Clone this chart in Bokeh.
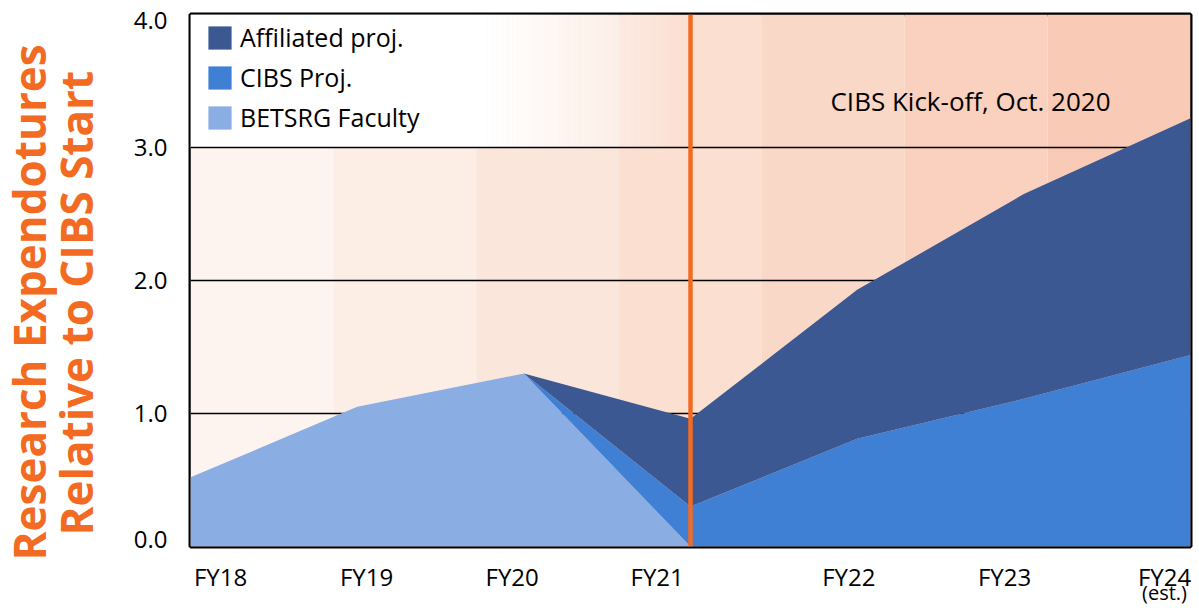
import numpy as np
from bokeh.plotting import figure
from bokeh.models import (ColumnDataSource, Legend, LegendItem, Label, FixedTicker,
                          LinearAxis, Title)
from bokeh.embed import file_html
from bokeh.resources import INLINE

# ---------------- data ----------------
fiscal_years = ["FY18", "FY19", "FY20", "FY21", "FY22", "FY23", "FY24"]
betsrg_faculty = [0.52, 1.05, 1.30, 0.0, 0.0, 0.0, 0.0]
cibs_proj = [0.0, 0.0, 0.0, 0.30, 0.81, 1.11, 1.44]
affiliated_proj = [0.0, 0.0, 0.0, 0.66, 1.12, 1.54, 1.78]
series_names = ["BETSRG Faculty", "CIBS Proj.", "Affiliated proj."]
y_ticks = [0.0, 1.0, 2.0, 3.0, 4.0]
y_tick_labels = ["0.0", "1.0", "2.0", "3.0", "4.0"]
kickoff_year = "FY21"
kickoff_label = "CIBS Kick-off, Oct. 2020"
estimate_note = "(est.)"
y_title = ["Research Expendotures", "Relative to CIBS Start"]

# ---------------- style ----------------
FONT = "Open Sans"
ORANGE = "#F36B22"
series_colors = ["#8AAEE3", "#3F80D5", "#3B5892"]
band_colors = ["#FDF4F0", "#FCEEE5", "#FBE6DB", "#FBDFD1", "#FAD8C8", "#FAD0BE", "#F9CAB5"]
label_shift = [0.18, 0.056, -0.07, -0.2, -0.05, -0.116, -0.156]
y_label_nudge = [0.05, 0.0, 0.0, 0.0, -0.045]

x = np.arange(len(fiscal_years))
x_min, x_max = x[0], x[-1]
y_min, y_max = y_ticks[0], y_ticks[-1]

src = ColumnDataSource(dict(x=x, betsrg=betsrg_faculty, cibs=cibs_proj, aff=affiliated_proj))

p = figure(frame_width=1000, frame_height=532, x_range=(x_min, x_max), y_range=(y_min, y_max),
           min_border_left=190, min_border_right=3, min_border_top=14, min_border_bottom=20,
           output_backend="svg", toolbar_location=None)
p.background_fill_color = "white"
p.border_fill_color = "white"
p.outline_line_color = "black"
p.outline_line_width = 4
p.grid.visible = False

# background bands
edges = np.linspace(x_min, x_max, len(band_colors) + 1)
p.quad(left=edges[:-1], right=edges[1:], bottom=y_min, top=y_max,
       fill_color=band_colors, line_color=None)

# white legend panel fading to the right
legend_top_start = y_ticks[-2]
fade_start, fade_end = 1.78, 3.0
p.quad(left=[x_min], right=[fade_start], bottom=[legend_top_start], top=[y_max],
       fill_color="white", line_color=None)
n = 40
fe = np.linspace(fade_start, fade_end, n + 1)
alphas = np.linspace(1.0, 0.0, n + 1)[:-1] - 0.5 / n
p.quad(left=fe[:-1], right=fe[1:] + 0.001, bottom=legend_top_start, top=y_max,
       fill_color="white", fill_alpha=np.clip(alphas, 0, 1), line_color=None)

# gridlines
p.hspan(y=y_ticks[1:-1], line_color="black", line_width=1.6)

# stacked areas
rs = p.varea_stack(["betsrg", "cibs", "aff"], x="x", color=series_colors, source=src)

# kickoff line
k = fiscal_years.index(kickoff_year)
p.vspan(x=[x[k]], line_color=ORANGE, line_width=4.5)

p.add_layout(Label(x=4.68, y=3.35, text=kickoff_label, text_align="center",
                   text_baseline="middle", text_font=FONT, text_font_size="26px",
                   text_color="black"))

# legend
items = [LegendItem(label=series_names[i], renderers=[rs[i]]) for i in (2, 1, 0)]
leg = Legend(items=items, location=(15, 412), glyph_width=29, glyph_height=29,
             label_text_font=FONT, label_text_font_size="25px", label_text_color="black",
             label_standoff=6, spacing=6, padding=10, margin=0,
             background_fill_alpha=0, border_line_color=None)
p.add_layout(leg)

# axes
xt = [float(i + s) for i, s in zip(x, label_shift)]
p.xaxis.ticker = FixedTicker(ticks=xt)
p.xaxis.major_label_overrides = dict(zip(xt, fiscal_years))
yt = [float(t + s) for t, s in zip(y_ticks, y_label_nudge)]
p.yaxis.ticker = FixedTicker(ticks=yt)
p.yaxis.major_label_overrides = dict(zip(yt, y_tick_labels))
for ax in (p.xaxis[0], p.yaxis[0]):
    ax.axis_line_color = None
    ax.major_tick_line_color = None
    ax.minor_tick_line_color = None
    ax.major_label_text_font = FONT
    ax.major_label_text_font_size = "24px"
    ax.major_label_text_color = "black"
p.xaxis.major_label_standoff = 7
p.yaxis.major_label_standoff = 17

# second bottom axis carrying the "(est.)" note under FY24
est_tick = xt[-1]
est_axis = LinearAxis(ticker=FixedTicker(ticks=[est_tick]),
                      major_label_overrides={est_tick: estimate_note},
                      axis_line_color=None, major_tick_line_color=None,
                      minor_tick_line_color=None, major_label_standoff=-17,
                      major_tick_out=0, major_tick_in=0,
                      major_label_text_font=FONT, major_label_text_font_size="20px",
                      major_label_text_color="black")
p.add_layout(est_axis, "below")

# y title as two left-side titles (inner line first)
for off, sto, line in ((11, 50, y_title[1]), (-14, -81, y_title[0])):
    p.add_layout(Title(text=line, align="left", offset=off, standoff=sto,
                       text_font=FONT, text_font_size="44px", text_font_style="bold",
                       text_color=ORANGE), "left")

open("out.html", "w").write(file_html(p, INLINE))
